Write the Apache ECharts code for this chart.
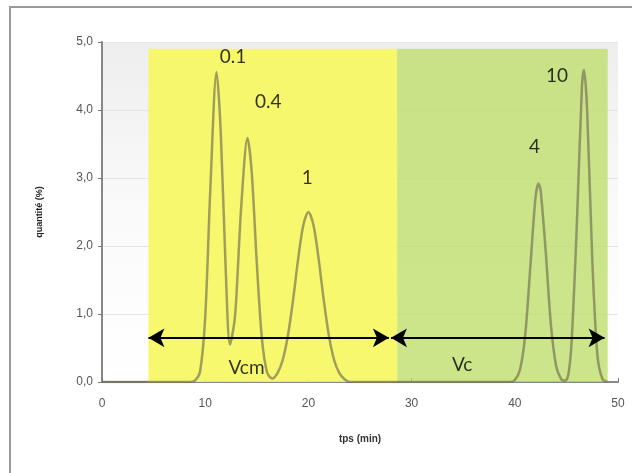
<!DOCTYPE html>
<html>
<head>
<meta charset="utf-8">
<script src="https://cdn.jsdelivr.net/npm/echarts@6/dist/echarts.min.js"></script>
<style>html,body{margin:0;padding:0;background:#fff}#c{width:632px;height:473px}</style>
</head>
<body>
<div id="c"></div>
<script>
// Chromatogram: time (min) and quantity (%)
var timeMin = [0, 8.5, 9.0, 9.5, 10.0, 10.5, 11.1, 11.5, 12.0, 12.4, 12.8, 13.0, 13.5, 14.1, 14.5, 15.0, 15.5, 16.0, 16.5, 17.0, 17.5, 18.0, 18.5, 19.0, 19.5, 20.0, 20.5, 21.0, 21.5, 22.0, 22.5, 23.0, 23.5, 24.0, 39.5, 40.0, 40.5, 41.0, 41.5, 42.0, 42.3, 42.5, 43.0, 43.5, 44.0, 44.5, 44.9, 45.2, 45.5, 46.0, 46.5, 46.7, 47.0, 47.5, 48.0, 48.5, 49.0];
var quantity = [0, 0, 0.02, 0.15, 0.95, 2.85, 4.56, 3.7, 1.6, 0.55, 0.85, 1.2, 2.6, 3.59, 3.1, 1.75, 0.63, 0.14, 0.05, 0.13, 0.32, 0.67, 1.19, 1.8, 2.3, 2.5, 2.3, 1.8, 1.19, 0.67, 0.32, 0.13, 0.04, 0, 0, 0.03, 0.18, 0.68, 1.68, 2.7, 2.92, 2.82, 1.91, 0.84, 0.24, 0.04, 0.02, 0.12, 0.58, 2.27, 4.33, 4.59, 4.03, 1.83, 0.4, 0.04, 0];

var peakLabels = ['0.1', '0.4', '1', '4', '10'];
var peakLabelX = [12.7, 16.1, 19.9, 41.9, 44.1];
var peakLabelY = [4.78, 4.12, 3.0, 3.46, 4.5];

var zoneNames = ['Vcm', 'Vc'];
var zoneStart = [4.5, 28.6];
var zoneEnd = [28.6, 49.0];
var zoneTop = 4.9;
var arrowStart = [4.5, 28.0];
var arrowEnd = [27.8, 48.7];
var arrowY = 0.65;
var zoneLabelX = [14.0, 34.9];
var zoneLabelY = [0.21, 0.25];

var xTicks = [0, 10, 20, 30, 40, 50];
var yTicks = [0, 1, 2, 3, 4, 5];

var curve = timeMin.map(function (t, i) { return [t, quantity[i]]; });
var zoneColors = ['rgba(247,247,95,0.9)', 'rgba(190,222,105,0.78)'];

var chart = echarts.init(document.getElementById('c'));
chart.setOption({
  animation: false,
  backgroundColor: '#fff',
  graphic: [
    { type: 'line', shape: { x1: 10, y1: 7, x2: 10, y2: 473 }, style: { stroke: '#999', lineWidth: 2 } },
    { type: 'line', shape: { x1: 9, y1: 7, x2: 632, y2: 7 }, style: { stroke: '#999', lineWidth: 2 } }
  ],
  grid: {
    left: 102, right: 14, top: 42, bottom: 91,
    show: true, borderWidth: 0,
    backgroundColor: new echarts.graphic.LinearGradient(0, 0, 0, 1, [
      { offset: 0, color: '#eeeeee' }, { offset: 0.5, color: '#fafafa' }, { offset: 1, color: '#ffffff' }
    ])
  },
  xAxis: {
    type: 'value', min: xTicks[0], max: xTicks[xTicks.length - 1], interval: 10,
    name: 'tps (min)', nameLocation: 'middle', nameGap: 52,
    nameTextStyle: { fontFamily: 'Liberation Sans', fontWeight: 'bold', fontSize: 10, color: '#333' },
    axisLine: { lineStyle: { color: '#888', width: 2 } },
    axisTick: { inside: true, length: 4, lineStyle: { color: '#777' } },
    axisLabel: { fontFamily: 'Liberation Sans', fontSize: 12, color: '#555', margin: 16 },
    splitLine: { show: false }
  },
  yAxis: {
    type: 'value', min: yTicks[0], max: yTicks[yTicks.length - 1], interval: 1,
    name: 'quantité (%)', nameLocation: 'middle', nameGap: 58, nameRotate: 90,
    nameTextStyle: { fontFamily: 'Liberation Sans', fontWeight: 'bold', fontSize: 9, color: '#222' },
    axisLine: { show: true, lineStyle: { color: '#888', width: 2 } },
    axisTick: { show: true, length: 4, lineStyle: { color: '#777' } },
    axisLabel: { fontFamily: 'Liberation Sans', fontSize: 12, color: '#555', margin: 9,
      formatter: function (v) { return v.toFixed(1).replace('.', ','); } },
    splitLine: { show: true, lineStyle: { color: '#e4e4e4', width: 1 } }
  },
  series: [
    {
      type: 'line', data: [], silent: true,
      markArea: {
        silent: true,
        data: zoneStart.map(function (s, i) {
          return [{ coord: [s, 0], itemStyle: { color: zoneColors[i] } }, { coord: [zoneEnd[i], zoneTop] }];
        })
      },
      markLine: {
        silent: true, symbol: ['arrow', 'arrow'], symbolSize: [14, 16],
        label: { show: false },
        lineStyle: { color: '#000', width: 2, type: 'solid' },
        data: arrowStart.map(function (s, i) {
          return [{ coord: [s, arrowY] }, { coord: [arrowEnd[i], arrowY] }];
        })
      }
    },
    {
      type: 'line', data: curve, showSymbol: false, smooth: 0.3, z: 3,
      lineStyle: { color: 'rgba(110,110,80,0.65)', width: 2.5 }
    },
    {
      type: 'scatter', symbolSize: 0, z: 5,
      data: peakLabels.map(function (l, i) { return { value: [peakLabelX[i], peakLabelY[i]], name: l }; })
        .concat(zoneNames.map(function (l, i) { return { value: [zoneLabelX[i], zoneLabelY[i]], name: l }; })),
      label: { show: true, position: 'inside', formatter: '{b}',
        fontFamily: 'Lato', fontSize: 19, color: '#000' }
    }
  ]
});
</script>
</body>
</html>
